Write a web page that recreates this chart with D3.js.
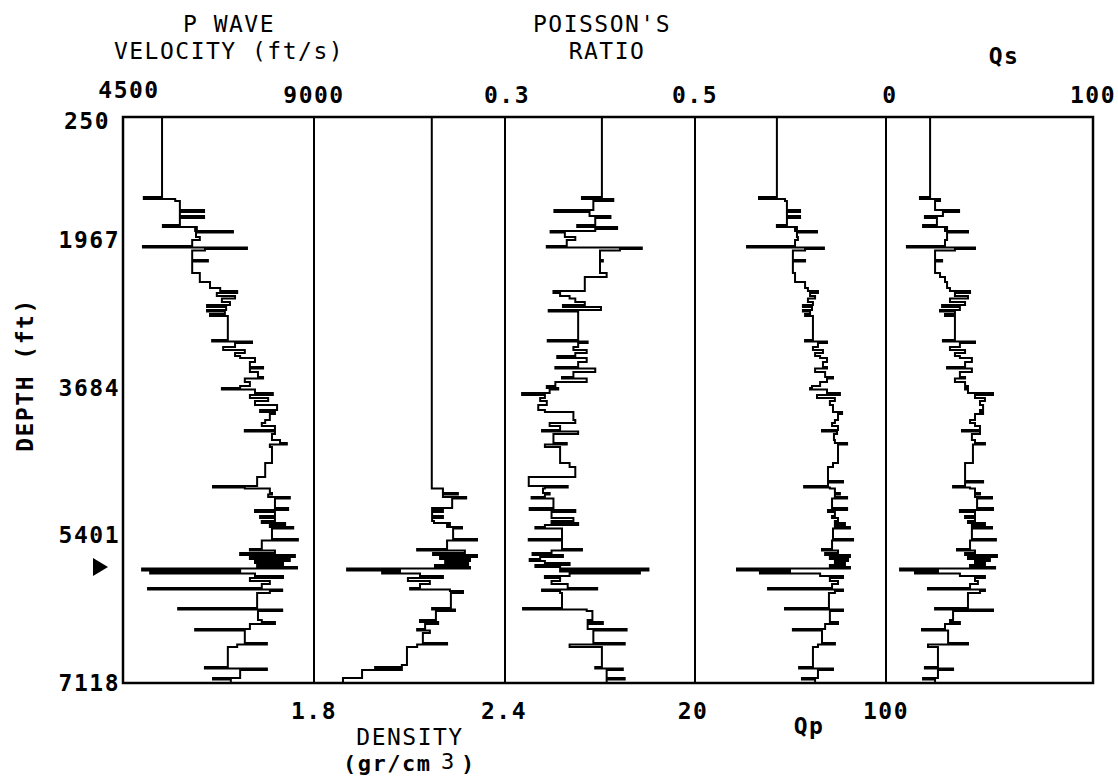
<!DOCTYPE html>
<html>
<head>
<meta charset="utf-8">
<script src="https://cdn.jsdelivr.net/npm/d3@7"></script>
<style>
  html, body { margin: 0; padding: 0; background: #fff; }
  svg text { font-family: "DejaVu Sans Mono", "Liberation Mono", monospace; fill: #000; }
</style>
</head>
<body>
<div class="svgpainter"></div>
<script>
// depth (ft) at which each layer value starts
const depth = [250, 1367, 1395, 1423, 1548, 1576, 1632, 1660, 1758, 1786, 1813, 1841, 1862, 1925, 1967,
  2037, 2054, 2072, 2089, 2200, 2217, 2351, 2397, 2455, 2525, 2560, 2583, 2618, 2647, 2688, 2723, 2746,
  2781, 2798, 2827, 2851, 3130, 3147, 3165, 3211, 3246, 3281, 3316, 3339, 3386, 3444, 3461, 3502, 3560,
  3577, 3618, 3665, 3688, 3705, 3746, 3769, 3804, 3839, 3886, 3944, 3967, 3990, 4060, 4095, 4130, 4176,
  4194, 4223, 4293, 4327, 4345, 4374, 4560, 4606, 4723, 4769, 4787, 4827, 4845, 4856, 4909, 4926, 4955,
  4973, 5083, 5106, 5130, 5176, 5199, 5234, 5258, 5281, 5304, 5321, 5444, 5461, 5560, 5577, 5606, 5630,
  5653, 5676, 5699, 5723, 5746, 5769, 5787, 5810, 5822, 5845, 5874, 5897, 5932, 5967, 6013, 6031, 6048,
  6072, 6246, 6263, 6281, 6385, 6409, 6432, 6490, 6508, 6537, 6653, 6670, 6699, 6909, 6932, 6949, 6967,
  7060, 7077]

// P wave velocity (ft/s)
const vp = [5420, 4990, 5730, 5840, 6410, 5840, 6410, 5840, 5440, 6240, 6200, 7090, 6220, 6310, 6130,
  4970, 7420, 6430, 6130, 6500, 6130, 6310, 6310, 6550, 6790, 7190, 6710, 7140, 6830, 7020, 6480, 6930,
  6480, 6900, 6550, 6970, 6600, 7540, 7140, 6860, 7370, 7140, 7260, 7610, 7490, 7800, 7490, 7680, 7800,
  7370, 7490, 7260, 6830, 7610, 8030, 7490, 7920, 7610, 8130, 7730, 8080, 7960, 7850, 7770, 8080, 7370,
  8080, 8010, 8200, 8360, 7960, 8010, 7850, 7850, 7660, 7660, 7660, 6620, 7370, 7960, 8010, 7920, 8430,
  8080, 8390, 7610, 8080, 7730, 8080, 7770, 8320, 7960, 8510, 8010, 8620, 7770, 7490, 8080, 7260, 8550,
  7490, 8430, 7610, 8270, 7660, 8600, 4950, 7260, 5140, 7610, 8270, 7490, 7960, 7770, 5090, 8250, 7960,
  7660, 5800, 8250, 7680, 7770, 8080, 7490, 6200, 7370, 7370, 7890, 7190, 6970, 6970, 6430, 7890, 7260,
  6620, 7040]

// density (gr/cm3)
const rho = [2.17, 2.17, 2.17, 2.17, 2.17, 2.17, 2.17, 2.17, 2.17, 2.17, 2.17, 2.17, 2.17, 2.17, 2.17,
  2.17, 2.17, 2.17, 2.17, 2.17, 2.17, 2.17, 2.17, 2.17, 2.17, 2.17, 2.17, 2.17, 2.17, 2.17, 2.17, 2.17,
  2.17, 2.17, 2.17, 2.17, 2.17, 2.17, 2.17, 2.17, 2.17, 2.17, 2.17, 2.17, 2.17, 2.17, 2.17, 2.17, 2.17,
  2.17, 2.17, 2.17, 2.17, 2.17, 2.17, 2.17, 2.17, 2.17, 2.17, 2.17, 2.17, 2.17, 2.17, 2.17, 2.17, 2.17,
  2.17, 2.17, 2.17, 2.17, 2.17, 2.17, 2.17, 2.17, 2.17, 2.17, 2.17, 2.17, 2.17, 2.205, 2.252, 2.205, 2.278,
  2.234, 2.171, 2.205, 2.171, 2.205, 2.171, 2.177, 2.227, 2.218, 2.265, 2.237, 2.312, 2.218, 2.124, 2.274, 2.174, 2.312,
  2.196, 2.290, 2.212, 2.284, 2.180, 2.290, 1.904, 2.070, 2.014, 2.133, 2.205, 2.095, 2.164, 2.133, 2.102, 2.227, 2.268,
  2.230, 2.171, 2.243, 2.183, 2.133, 2.190, 2.149, 2.124, 2.164, 2.142, 2.218, 2.124, 2.092, 2.076, 1.992, 2.076, 1.951,
  1.891, 1.891]

// Poisson's ratio
const pr = [0.402, 0.381, 0.414, 0.393, 0.352, 0.389, 0.411, 0.395, 0.376, 0.418, 0.395, 0.348, 0.363, 0.374, 0.365,
  0.344, 0.444, 0.421, 0.400, 0.403, 0.400, 0.407, 0.384, 0.384, 0.384, 0.351, 0.358, 0.368, 0.374, 0.384, 0.361, 0.401,
  0.346, 0.377, 0.377, 0.377, 0.345, 0.387, 0.377, 0.372, 0.386, 0.374, 0.355, 0.386, 0.377, 0.353, 0.395, 0.372, 0.360,
  0.386, 0.353, 0.344, 0.356, 0.347, 0.318, 0.342, 0.337, 0.344, 0.335, 0.342, 0.372, 0.372, 0.374, 0.347, 0.358, 0.339,
  0.377, 0.351, 0.351, 0.365, 0.342, 0.358, 0.368, 0.374, 0.325, 0.325, 0.325, 0.366, 0.342, 0.340, 0.347, 0.342, 0.328,
  0.351, 0.326, 0.374, 0.349, 0.349, 0.372, 0.349, 0.377, 0.342, 0.332, 0.360, 0.325, 0.360, 0.381, 0.349, 0.329, 0.361,
  0.337, 0.326, 0.342, 0.368, 0.332, 0.358, 0.451, 0.358, 0.442, 0.368, 0.342, 0.358, 0.349, 0.366, 0.397, 0.339, 0.358,
  0.360, 0.319, 0.386, 0.392, 0.387, 0.403, 0.387, 0.428, 0.393, 0.393, 0.426, 0.368, 0.402, 0.402, 0.395, 0.424, 0.407,
  0.426, 0.407]

// Qp
const qp = [54.3, 46.8, 57.7, 58.5, 64.0, 58.5, 64.0, 58.5, 54.3, 62.7, 61.9, 71.1, 62.7, 63.1, 61.9,
  41.8, 74.0, 66.1, 61.0, 66.1, 61.0, 61.9, 61.9, 66.1, 67.3, 71.5, 68.2, 70.3, 67.3, 69.4, 65.2, 69.0,
  65.2, 68.2, 66.1, 69.4, 66.1, 75.3, 71.5, 69.4, 73.6, 70.3, 72.4, 75.3, 73.6, 75.3, 70.3, 74.5, 77.8,
  75.3, 72.4, 69.0, 68.2, 75.3, 80.7, 71.1, 78.6, 76.5, 77.8, 77.8, 81.6, 79.9, 78.6, 77.4, 79.9, 73.2,
  79.5, 78.2, 78.6, 83.7, 79.9, 79.9, 77.8, 75.7, 75.7, 82.0, 75.7, 65.7, 76.5, 78.6, 80.7, 78.6, 83.7,
  77.4, 83.7, 75.7, 78.6, 77.4, 79.9, 78.6, 82.8, 78.6, 84.9, 77.8, 86.2, 77.4, 73.2, 79.9, 74.5, 84.9,
  76.5, 84.1, 78.6, 82.8, 76.5, 84.9, 37.6, 59.8, 47.2, 72.4, 82.0, 76.5, 79.9, 77.4, 50.6, 82.0, 78.6,
  76.1, 57.7, 82.0, 76.5, 76.5, 79.9, 74.5, 61.0, 73.2, 73.2, 78.6, 71.5, 69.4, 69.4, 63.6, 77.8, 71.5,
  64.8, 70.3]

// Qs
const qs = [21.3, 16.4, 26.1, 23.7, 35.3, 27.5, 18.8, 24.6, 17.9, 29.5, 28.5, 39.6, 29.5, 29.5, 28.5,
  10.1, 43.0, 33.3, 23.7, 27.1, 23.7, 26.1, 28.5, 29.5, 30.9, 40.6, 33.3, 39.6, 30.9, 38.2, 27.1, 35.7,
  26.1, 33.3, 28.5, 33.3, 27.5, 43.0, 35.7, 30.9, 38.2, 33.3, 35.7, 41.5, 38.2, 29.5, 41.5, 35.7, 38.2,
  33.3, 38.2, 39.6, 38.2, 39.6, 51.7, 43.0, 47.8, 45.4, 46.9, 45.4, 46.9, 43.0, 40.6, 43.0, 45.4, 36.7,
  45.4, 41.5, 43.0, 47.8, 42.0, 42.0, 38.2, 38.2, 38.2, 46.9, 38.2, 32.4, 40.6, 43.0, 45.4, 43.0, 51.2,
  44.0, 51.7, 35.7, 43.0, 38.2, 43.0, 39.6, 47.8, 41.5, 51.2, 41.5, 53.1, 40.6, 34.3, 43.0, 38.2, 53.6,
  39.6, 50.2, 43.0, 47.8, 40.6, 52.7, 6.8, 25.1, 14.0, 35.7, 47.8, 43.0, 44.4, 40.6, 20.3, 47.8, 45.4,
  39.6, 23.7, 51.7, 32.4, 30.9, 35.7, 28.5, 17.4, 30.0, 30.0, 39.6, 20.3, 25.1, 25.1, 18.8, 32.4, 25.1,
  17.9, 23.7]

const depthTicks = [250, 1967, 3684, 5401, 7118]
const vpRange = [4500, 9000]
const rhoRange = [1.8, 2.4]
const prRange = [0.3, 0.5]
const qpRange = [20, 100]
const qsRange = [0, 100]
const markerDepth = 5770

const W = 1118, H = 780
const plotTop = 117, plotBottom = 683

let svg = d3.select('.svgpainter')
    .append('svg')
    .attr('width', W)
    .attr('height', H)

// depth labels are not evenly spaced in the original plot, so use a polylinear scale
const y = d3.scaleLinear()
    .domain([250, 1967, 7118])
    .range([plotTop, 240, plotBottom])

const tracks = [
    { vals: vp, range: vpRange, x0: 123, x1: 314 },
    { vals: rho, range: rhoRange, x0: 314, x1: 505 },
    { vals: pr, range: prRange, x0: 505, x1: 695 },
    { vals: qp, range: qpRange, x0: 695, x1: 886 },
    { vals: qs, range: qsRange, x0: 886, x1: 1093 },
]
tracks.forEach(t => {
    t.x = d3.scaleLinear().domain(t.range).range([t.x0, t.x1])
})

// curves
const endDepth = depthTicks[depthTicks.length - 1]
tracks.forEach(t => {
    let pts = depth.map((d, i) => [t.vals[i], d])
    pts.push([t.vals[t.vals.length - 1], endDepth])
    let line = d3.line()
        .x(p => t.x(p[0]))
        .y(p => y(p[1]))
        .curve(d3.curveStepBefore)
    svg.append('path')
        .attr('d', line(pts))
        .attr('fill', 'none')
        .attr('stroke', '#000')
        .attr('stroke-width', 2)
})

// frame and separators
svg.append('rect')
    .attr('x', 123).attr('y', plotTop)
    .attr('width', 1093 - 123).attr('height', plotBottom - plotTop)
    .attr('fill', 'none')
    .attr('stroke', '#000')
    .attr('stroke-width', 2.5)
tracks.slice(1).forEach(t => {
    svg.append('line')
        .attr('x1', t.x0).attr('x2', t.x0)
        .attr('y1', plotTop).attr('y2', plotBottom)
        .attr('stroke', '#000')
        .attr('stroke-width', 2)
})

function label(txt, x, yy, opts = {}) {
    return svg.append('text')
        .attr('x', x)
        .attr('y', yy)
        .attr('text-anchor', opts.anchor || 'middle')
        .attr('font-size', opts.size || 23)
        .attr('font-weight', opts.bold === false ? 'normal' : 'bold')
        .attr('letter-spacing', 1.5)
        .text(txt)
}

// depth axis
depthTicks.forEach((d, i) => {
    label(d, i === 0 ? 110 : 120, y(d) + 8 + (i === 0 ? 4 : 0), { anchor: 'end' })
})
label('DEPTH (ft)', 0, 0)
    .attr('transform', 'translate(33,375) rotate(-90)')

svg.append('path')
    .attr('d', `M93,${y(markerDepth) - 9} L108,${y(markerDepth)} L93,${y(markerDepth) + 9} Z`)
    .attr('fill', '#000')

// top titles
label('P WAVE', 229, 32, { bold: false })
label('VELOCITY (ft/s)', 229, 59, { bold: false })
label("POISSON'S", 602, 32, { bold: false })
label('RATIO', 607, 59, { bold: false })
label('Qs', 1004, 64)

// top scale ends
label(vpRange[0], tracks[0].x(vpRange[0]) + 6, 98)
label(vpRange[1], tracks[0].x(vpRange[1]), 103)
label(prRange[0], tracks[2].x(prRange[0]) + 2, 103)
label(prRange[1], tracks[2].x(prRange[1]), 103)
label(qsRange[0], tracks[4].x(qsRange[0]) + 4, 103)
label(qsRange[1], tracks[4].x(qsRange[1]), 103)

// bottom scale ends
label(rhoRange[0], tracks[1].x(rhoRange[0]), 719)
label(rhoRange[1], tracks[1].x(rhoRange[1]) - 1, 719)
label(qpRange[0], tracks[3].x(qpRange[0]) - 2, 719)
label(qpRange[1], tracks[3].x(qpRange[1]), 719)

label('DENSITY', 410, 745, { bold: false })
let unit = svg.append('text')
    .attr('y', 771)
    .attr('font-size', 22)
    .attr('font-weight', 'bold')
    .attr('letter-spacing', 1.5)
unit.append('tspan').attr('x', 343).text('(gr/cm')
unit.append('tspan').attr('x', 441).attr('dy', -2).attr('font-weight', 'normal').text('3')
unit.append('tspan').attr('x', 461).attr('dy', 2).text(')')
label('Qp', 809, 734)
</script>
</body>
</html>
